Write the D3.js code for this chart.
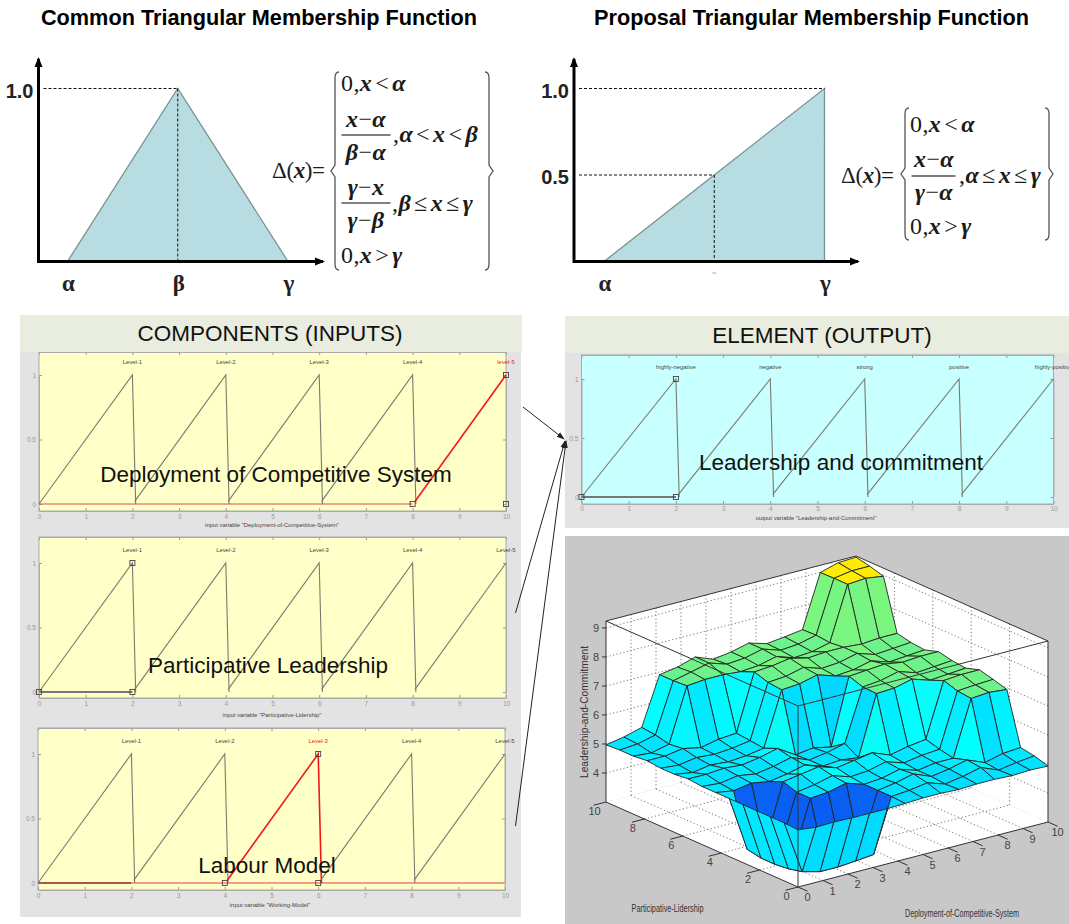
<!DOCTYPE html>
<html lang="en">
<head>
<meta charset="UTF-8">
<title>Triangular membership functions and fuzzy surface</title>
<script src="https://d3js.org/d3.v7.min.js"></script>
<style>
html,body{margin:0;padding:0;background:#fff}
svg{display:block}
text{font-family:"Liberation Sans",Arial,sans-serif}
.title{font-weight:bold;font-size:21.7px;fill:#000;text-anchor:middle}
.tri-area{fill:#b7dde2;stroke:#7b9292;stroke-width:1.3}
.guide{stroke:#111;stroke-width:1;stroke-dasharray:3 2;fill:none}
.axis-main{stroke:#000;stroke-width:3;fill:none}
.big-tick{font-weight:bold;font-size:20px;fill:#222}
.greek{font-family:"Liberation Serif",serif;font-weight:bold;font-size:23px;fill:#222;text-anchor:middle}
.math{font-family:"Liberation Serif",serif;font-size:24px;fill:#1b1b1b}
.math .v{font-style:italic;font-weight:bold}
.rule{stroke:#555;stroke-width:1.3}
.brk{stroke:#555;stroke-width:1.3;fill:none}
.head{fill:#e9eddf}
.head-label{font-size:22.5px;fill:#111;text-anchor:middle}
.panel{fill:#e3e3e3}
.mf-axis text{fill:#999;font-size:6.5px;font-family:"Liberation Sans",sans-serif}
.mf-axis line{stroke:#999}
.mf-axis path{stroke:#aaa;fill:none}
.mf-line{fill:none;stroke:#7a7a70;stroke-width:1.1}
.mf-name{font-size:5.9px;text-anchor:middle;fill:#444}
.mf-var{font-size:5.9px;text-anchor:middle;fill:#444}
.mf-title{font-size:22.5px;fill:#111;text-anchor:middle}
.handle{fill:none;stroke:#444;stroke-width:.9}
.link{stroke:#222;stroke-width:1;fill:none}
.surf-wall{fill:#fff}
.surf-grid{stroke:#777;stroke-width:1;stroke-dasharray:1.2 2.4;fill:none}
.surf-box{stroke:#333;stroke-width:1;fill:none}
.surf-face{stroke:#222;stroke-width:.9;stroke-linejoin:round}
.surf-tick{font-size:11px;fill:#444;text-anchor:middle}
.surf-name{font-size:10.2px;fill:#333;text-anchor:middle}
</style>
</head>
<body>
<svg id="chart" width="1069" height="924" viewBox="0 0 1069 924"></svg>
<script>
// top left / top right membership shapes (x, mu)
var commonX = [0, 0.5, 1];
var commonMu = [0, 1, 0];
var proposalX = [0, 0.5, 1];
var proposalMu = [0, 0.5, 1];

// sawtooth membership functions, same in every panel
var mfFeet = [0, 2.05, 4.05, 6.05, 8.05];
var mfFootMu = [0, 0.02, 0.02, 0.02, 0.02];
var mfPeaks = [2, 4, 6, 8, 10];
var mfEnds = [2.07, 4.07, 6.07, 8.07, null];
var inputLevels = ['Level-1', 'Level-2', 'Level-3', 'Level-4', 'Level-5'];
var outputLevels = ['highly-negative', 'negative', 'strong', 'positive', 'highly-positive'];
var xTicks = [0, 1, 2, 3, 4, 5, 6, 7, 8, 9, 10];
var yTicks = [0, 0.5, 1];

// gensurf output, rows are Participative-Lidership, columns Deployment-of-Competitive-System
var surfaceZ = [
  [4.97, 4.9, 4.92, 4.9, 4.9, 4.9, 4.92, 4.95, 4.95, 4.92, 4.95, 4.95, 4.92, 4.95, 4.93],
  [5.0, 3.16, 3.0, 3.0, 3.05, 3.11, 4.95, 5.0, 5.1, 4.9, 5.0, 5.15, 4.9, 5.0, 5.07],
  [5.0, 3.05, 3.0, 3.0, 3.05, 3.1, 4.95, 5.05, 5.2, 4.95, 5.05, 5.2, 4.95, 5.1, 5.15],
  [5.0, 3.0, 3.05, 4.95, 5.0, 5.15, 4.95, 5.0, 5.15, 4.95, 5.05, 5.05, 6.95, 7.0, 6.94],
  [5.0, 3.0, 3.05, 4.95, 5.05, 5.2, 5.0, 5.05, 5.2, 5.0, 5.1, 5.15, 7.0, 7.05, 7.08],
  [5.0, 3.09, 3.1, 5.1, 5.2, 5.3, 5.1, 5.2, 5.3, 5.06, 5.2, 5.28, 7.15, 7.2, 7.2],
  [5.0, 4.9, 5.0, 4.9, 5.0, 5.15, 4.95, 5.0, 4.92, 6.97, 7.0, 7.15, 6.95, 7.0, 7.05],
  [5.0, 4.95, 5.05, 4.95, 5.05, 5.2, 4.95, 5.05, 5.2, 6.99, 7.05, 7.2, 7.0, 7.05, 7.1],
  [5.05, 5.05, 5.1, 5.05, 5.15, 5.3, 4.92, 5.0, 4.87, 7.15, 7.2, 7.25, 7.15, 7.2, 7.2],
  [5.0, 4.9, 5.0, 4.95, 5.0, 5.1, 6.95, 7.0, 7.15, 6.95, 7.0, 7.15, 6.95, 7.0, 7.05],
  [5.0, 4.95, 5.05, 5.0, 5.05, 5.15, 7.0, 7.05, 7.2, 7.0, 7.05, 7.2, 7.0, 7.05, 7.1],
  [5.05, 5.05, 5.15, 5.02, 5.15, 5.2, 7.15, 7.2, 7.3, 7.15, 7.2, 7.2, 7.15, 7.2, 7.2],
  [5.0, 4.95, 5.09, 6.94, 7.0, 7.0, 6.95, 7.0, 7.15, 6.95, 7.0, 7.15, 9.0, 9.05, 8.96],
  [5.0, 5.05, 5.2, 6.91, 7.05, 7.2, 7.0, 7.05, 7.2, 7.0, 7.05, 7.2, 9.0, 9.1, 9.1],
  [4.97, 5.08, 5.25, 6.91, 7.01, 7.2, 6.96, 7.05, 7.2, 7.02, 7.09, 7.18, 8.99, 9.17, 9.2]
];
var uTicks = [0, 1, 2, 3, 4, 5, 6, 7, 8, 9, 10];
var vTicks = [0, 2, 4, 6, 8, 10];
var zTicks = [4, 5, 6, 7, 8, 9];

var svg = d3.select('#chart');
var defs = svg.append('defs');
defs.append('marker').attr('id', 'head').attr('markerUnits', 'userSpaceOnUse')
  .attr('viewBox', '0 0 10 10').attr('refX', 8).attr('refY', 5)
  .attr('markerWidth', 10).attr('markerHeight', 10).attr('orient', 'auto')
  .append('path').attr('d', 'M0,1L10,5L0,9Z').attr('fill', '#000');
defs.append('marker').attr('id', 'thin').attr('markerUnits', 'userSpaceOnUse')
  .attr('viewBox', '0 0 10 10').attr('refX', 9).attr('refY', 5)
  .attr('markerWidth', 8).attr('markerHeight', 8).attr('orient', 'auto')
  .append('path').attr('d', 'M0,1.5L10,5L0,8.5Z').attr('fill', '#222');

svg.append('text').attr('class', 'title').attr('x', 259).attr('y', 25).text('Common Triangular Membership Function');
svg.append('text').attr('class', 'title').attr('x', 811.5).attr('y', 25).text('Proposal Triangular Membership Function');

// ---- top shapes
function drawShape(xs, mus, xRange, originX, arrowX, labels, yLabels) {
  var x = d3.scaleLinear().domain([0, 1]).range(xRange);
  var y = d3.scaleLinear().domain([0, 1]).range([261.5, 88.5]);
  var g = svg.append('g');
  var pts = xs.map(function(d, i) { return [d, mus[i]]; });
  g.append('path').attr('class', 'tri-area')
    .attr('d', d3.area().x(function(d) { return x(d[0]); }).y0(y(0)).y1(function(d) { return y(d[1]); })(pts));
  // guide from the y axis to the shape and down to the x axis
  yLabels.forEach(function(t) {
    var gx = t.at;
    g.append('line').attr('class', 'guide').attr('x1', originX + 5).attr('x2', x(gx)).attr('y1', y(t.mu)).attr('y2', y(t.mu));
    g.append('text').attr('class', 'big-tick').attr('text-anchor', 'end').attr('x', originX - 5).attr('y', y(t.mu) + 9).text(t.label);
  });
  g.append('line').attr('class', 'guide').attr('x1', x(0.5)).attr('x2', x(0.5)).attr('y1', y(pts[1][1])).attr('y2', y(0));
  g.append('line').attr('class', 'axis-main').attr('marker-end', 'url(#head)')
    .attr('x1', originX).attr('x2', originX).attr('y1', y(0) + 1.5).attr('y2', 59);
  g.append('line').attr('class', 'axis-main').attr('marker-end', 'url(#head)')
    .attr('x1', originX).attr('x2', arrowX).attr('y1', y(0)).attr('y2', y(0));
  labels.forEach(function(l) {
    g.append('text').attr('class', 'greek').attr('x', x(l.at) + 1).attr('y', 291).text(l.text);
  });
  return x;
}
drawShape(commonX, commonMu, [67.5, 288], 38.5, 323,
  [{at: 0, text: 'α'}, {at: 0.5, text: 'β'}, {at: 1, text: 'γ'}],
  [{mu: 1, at: 0.5, label: '1.0'}]);
var propX = drawShape(proposalX, proposalMu, [604, 824.5], 574, 858,
  [{at: 0, text: 'α'}, {at: 1, text: 'γ'}],
  [{mu: 1, at: 1, label: '1.0'}, {mu: 0.5, at: 0.5, label: '0.5'}]);
// leftover tick under the middle guide
svg.append('line').attr('x1', propX(0.5) - 2).attr('x2', propX(0.5) + 2).attr('y1', 273).attr('y2', 273)
  .attr('stroke', '#aaa').attr('stroke-width', 1);

// ---- formulas
function mathText(x, y, str, anchor) {
  var t = svg.append('text').attr('class', 'math').attr('x', x).attr('y', y)
    .attr('text-anchor', anchor || 'start').attr('letter-spacing', '0.4');
  var afterOp = false;
  str.split('').forEach(function(c) {
    var op = /[<>≤≥]/.test(c);
    t.append('tspan').attr('class', /[xαβγ]/.test(c) ? 'v' : null)
      .attr('dx', op || afterOp ? 3 : null).text(c);
    afterOp = op;
  });
  return t;
}
function rule(x1, x2, y) {
  svg.append('line').attr('class', 'rule').attr('x1', x1).attr('x2', x2).attr('y1', y).attr('y2', y);
}
function bracket(x, y0, y1, dir) {
  var mid = (y0 + y1) / 2;
  svg.append('path').attr('class', 'brk').attr('d',
    'M' + (x + dir * 4) + ',' + y0 + 'Q' + x + ',' + y0 + ' ' + x + ',' + (y0 + 6) +
    'V' + (mid - 6) + 'L' + (x - dir * 4) + ',' + mid + 'L' + x + ',' + (mid + 6) +
    'V' + (y1 - 6) + 'Q' + x + ',' + y1 + ' ' + (x + dir * 4) + ',' + y1);
}
mathText(272, 178, 'Δ(x)=').style('font-size', '23px').attr('letter-spacing', '-0.4');
bracket(335, 72, 270, 1);
bracket(489, 72, 270, -1);
mathText(341, 91, '0,x<α');
mathText(366, 127, 'x−α', 'middle');
rule(341.5, 390.5, 135);
mathText(366, 160, 'β−α', 'middle');
mathText(393, 142, ',α<x<β');
mathText(366, 195, 'γ−x', 'middle');
rule(341.5, 390.5, 203);
mathText(366, 228, 'γ−β', 'middle');
mathText(392, 211, ',β≤x≤γ');
mathText(341, 263, '0,x>γ');

mathText(841, 183, 'Δ(x)=').style('font-size', '23px').attr('letter-spacing', '-0.4');
bracket(905, 108, 240, 1);
bracket(1049, 108, 240, -1);
mathText(910, 132, '0,x<α');
mathText(934, 167, 'x−α', 'middle');
rule(911.5, 955.5, 176);
mathText(934, 200, 'γ−α', 'middle');
mathText(959, 183, ',α≤x≤γ');
mathText(910, 234, '0,x>γ');

// ---- input / output panels
svg.append('rect').attr('class', 'panel').attr('x', 20).attr('y', 352).attr('width', 501).attr('height', 565);
svg.append('rect').attr('class', 'panel').attr('x', 565).attr('y', 353).attr('width', 504).attr('height', 175);

function drawMf(opt) {
  var x = d3.scaleLinear().domain([0, 10]).range([opt.left, opt.right]);
  var y = d3.scaleLinear().domain([0, 1]).range([opt.y0, opt.y1]);
  var g = svg.append('g');
  g.append('rect').attr('x', opt.left).attr('y', opt.top).attr('width', opt.right - opt.left)
    .attr('height', opt.bottom - opt.top).attr('fill', opt.fill);

  var bottom = d3.axisBottom(x).tickValues(xTicks).tickSizeInner(-3).tickSizeOuter(0).tickPadding(opt.pad).tickFormat(d3.format('d'));
  g.append('g').attr('class', 'mf-axis').attr('transform', 'translate(0,' + opt.bottom + ')').call(bottom);
  g.append('g').attr('class', 'mf-axis').attr('transform', 'translate(0,' + opt.top + ')')
    .call(d3.axisTop(x).tickValues(xTicks).tickSizeInner(-3).tickSizeOuter(0).tickFormat(''));
  var leftAxis = d3.axisLeft(y).tickValues(yTicks).tickSizeInner(-3).tickSizeOuter(0).tickPadding(3).tickFormat(function(d) { return d; });
  g.append('g').attr('class', 'mf-axis').attr('transform', 'translate(' + opt.left + ',0)').call(leftAxis);
  g.append('g').attr('class', 'mf-axis').attr('transform', 'translate(' + opt.right + ',0)')
    .call(d3.axisRight(y).tickValues(yTicks).tickSizeInner(-3).tickSizeOuter(0).tickFormat(''));
  // frame
  g.append('rect').attr('x', opt.left).attr('y', opt.top).attr('width', opt.right - opt.left)
    .attr('height', opt.bottom - opt.top).attr('fill', 'none').attr('stroke', '#aaa');

  var line = d3.line().x(function(d) { return x(d[0]); }).y(function(d) { return y(d[1]); });
  (opt.base || []).forEach(function(b) {
    g.append('path').attr('d', line([[b.from, 0], [b.to, 0]])).attr('fill', 'none')
      .attr('stroke', b.color).attr('stroke-width', b.width);
  });
  mfPeaks.forEach(function(p, i) {
    var on = i === opt.active;
    var pts = [[mfFeet[i], mfFootMu[i]], [p, 1]];
    if (mfEnds[i] !== null) pts.push([mfEnds[i], 0]);
    g.append('path').attr('class', 'mf-line').attr('d', line(pts))
      .style('stroke', on ? '#f21818' : null).style('stroke-width', on ? 1.6 : null);
    g.append('text').attr('class', 'mf-name').attr('x', x(p)).attr('y', opt.nameY)
      .style('fill', on ? '#f21818' : null).text(on && p === 10 ? 'level-5' : opt.names[i]);
  });
  (opt.handles || []).forEach(function(h) {
    g.append('rect').attr('class', 'handle').attr('x', x(h[0]) - 2.5).attr('y', y(h[1]) - 2.5).attr('width', 5).attr('height', 5);
  });
  g.append('text').attr('class', 'mf-var').attr('x', opt.varX).attr('y', opt.varY).text(opt.varName);
  g.append('text').attr('class', 'mf-title').attr('x', opt.nameX).attr('y', opt.nameBase).text(opt.title);
}

drawMf({left: 39, right: 506, top: 352, bottom: 511, y0: 504, y1: 375, nameY: 364, fill: '#ffffc8', pad: 3,
  names: inputLevels, active: 4, handles: [[8, 0], [10, 1], [10, 0]],
  base: [{from: 0, to: 8, color: '#d9534a', width: 1.2}],
  varX: 272, varY: 527, varName: 'input variable "Deployment-of-Competitive-System"',
  nameX: 276, nameBase: 482, title: 'Deployment of Competitive System'});
drawMf({left: 39, right: 506, top: 537, bottom: 698, y0: 692, y1: 563, nameY: 552, fill: '#ffffc8', pad: 3,
  names: inputLevels, active: -1, handles: [[0, 0], [2, 0], [2, 1]],
  base: [{from: 0, to: 2, color: '#777', width: 1.8}],
  varX: 272, varY: 717, varName: 'input variable "Participative-Lidership"',
  nameX: 268, nameBase: 673, title: 'Participative Leadership'});
drawMf({left: 38, right: 505, top: 728, bottom: 890, y0: 883, y1: 754, nameY: 743, fill: '#ffffc8', pad: 3,
  names: inputLevels, active: 2, handles: [[4, 0], [6, 1], [6, 0]],
  base: [{from: 0, to: 2, color: '#a8564c', width: 2}, {from: 2, to: 10, color: '#f79a8c', width: 2}],
  varX: 270, varY: 907, varName: 'input variable "Working-Model"',
  nameX: 267, nameBase: 873, title: 'Labour Model'});
drawMf({left: 581.5, right: 1053.5, top: 355, bottom: 504, y0: 497, y1: 379, nameY: 369, fill: '#c8ffff', pad: 2,
  names: outputLevels, active: -1, handles: [[0, 0], [2, 0], [2, 1]],
  base: [{from: 0, to: 2, color: '#777', width: 1.8}],
  varX: 816, varY: 520, varName: 'output variable "Leadership-and-Commitment"',
  nameX: 841, nameBase: 470, title: 'Leadership and commitment'});

svg.append('rect').attr('class', 'head').attr('x', 20).attr('y', 315).attr('width', 502).attr('height', 37);
svg.append('text').attr('class', 'head-label').attr('x', 270).attr('y', 341).text('COMPONENTS (INPUTS)');
svg.append('rect').attr('class', 'head').attr('x', 565).attr('y', 316).attr('width', 504).attr('height', 37);
svg.append('text').attr('class', 'head-label').attr('x', 822).attr('y', 343).text('ELEMENT (OUTPUT)');

// ---- arrows from the inputs to the output
[[523, 407, 564, 439], [515.5, 613, 565, 441], [515.5, 826, 566, 441]].forEach(function(a) {
  svg.append('line').attr('class', 'link').attr('marker-end', 'url(#thin)')
    .attr('x1', a[0]).attr('y1', a[1]).attr('x2', a[2]).attr('y2', a[3]);
});

// ---- surface
svg.append('rect').attr('x', 565).attr('y', 536).attr('width', 504).attr('height', 388).attr('fill', '#c8c8c8');

var uX = d3.scaleLinear().domain([0, 10]).range([0, 250]);
var uY = d3.scaleLinear().domain([0, 10]).range([0, -65]);
var vX = d3.scaleLinear().domain([0, 10]).range([0, -192]);
var vY = d3.scaleLinear().domain([0, 10]).range([0, -85]);
var zY = d3.scaleLinear().domain([3, 9.24]).range([0, -181]);
var gridStep = d3.scaleLinear().domain([0, 14]).range([0, 10]);
var zColor = d3.scaleLinear()
  .domain([3, 4, 4.85, 5.0, 5.2, 6, 6.9, 7.3, 8.5, 8.95])
  .range(['#0b5cf2', '#0094ff', '#00d6ff', '#00e8ff', '#00ffff', '#30f5c0', '#68f090', '#80f87a', '#e0f020', '#ffec00'])
  .clamp(true);

function proj(u, v, z) {
  return [798 + uX(u) + vX(v), 887 + uY(u) + vY(v) + zY(z)];
}
function pathOf(pts) { return 'M' + pts.map(function(p) { return p.join(','); }).join('L') + 'Z'; }
var surf = svg.append('g');
var zMin = 3, zTop = 9.24;

// walls and floor seen behind the surface
[[[0, 0, zMin], [10, 0, zMin], [10, 10, zMin], [0, 10, zMin]],
 [[0, 10, zMin], [10, 10, zMin], [10, 10, zTop], [0, 10, zTop]],
 [[10, 0, zMin], [10, 10, zMin], [10, 10, zTop], [10, 0, zTop]]].forEach(function(q) {
  surf.append('path').attr('class', 'surf-wall').attr('d', pathOf(q.map(function(p) { return proj(p[0], p[1], p[2]); })));
});
function seg(cls, a, b) {
  var p = proj(a[0], a[1], a[2]), q = proj(b[0], b[1], b[2]);
  surf.append('line').attr('class', cls).attr('x1', p[0]).attr('y1', p[1]).attr('x2', q[0]).attr('y2', q[1]);
}
uTicks.slice(1, -1).forEach(function(u) {
  seg('surf-grid', [u, 0, zMin], [u, 10, zMin]);
  seg('surf-grid', [u, 10, zMin], [u, 10, zTop]);
});
vTicks.slice(1, -1).forEach(function(v) {
  seg('surf-grid', [0, v, zMin], [10, v, zMin]);
  seg('surf-grid', [10, v, zMin], [10, v, zTop]);
});
zTicks.forEach(function(z) {
  seg('surf-grid', [0, 10, z], [10, 10, z]);
  seg('surf-grid', [10, 10, z], [10, 0, z]);
});
// back edges of the box
seg('surf-box', [0, 10, zTop], [10, 10, zTop]);
seg('surf-box', [10, 10, zTop], [10, 0, zTop]);
seg('surf-box', [0, 10, zMin], [0, 10, zTop]);
seg('surf-box', [10, 0, zMin], [10, 0, zTop]);

// far cells first so nearer ones paint over them, colour comes from the first corner
for (var j = surfaceZ.length - 2; j >= 0; j--) {
  for (var i = surfaceZ[j].length - 2; i >= 0; i--) {
    var corners = [[i, j], [i + 1, j], [i + 1, j + 1], [i, j + 1]].map(function(c) {
      return proj(gridStep(c[0]), gridStep(c[1]), surfaceZ[c[1]][c[0]]);
    });
    surf.append('path').attr('class', 'surf-face').attr('fill', zColor(surfaceZ[j][i])).attr('d', pathOf(corners));
  }
}

// front edges of the box
seg('surf-box', [0, 10, zTop], [0, 0, zTop]);
seg('surf-box', [10, 0, zTop], [0, 0, zTop]);
seg('surf-box', [0, 0, zMin], [0, 0, zTop]);
seg('surf-box', [0, 0, zMin], [10, 0, zMin]);
seg('surf-box', [0, 0, zMin], [0, 10, zMin]);

// tick marks and labels
uTicks.forEach(function(u) {
  seg('surf-box', [u, 0, zMin], [u, -0.5, zMin]);
  var p = proj(u, 0, zMin);
  surf.append('text').attr('class', 'surf-tick').attr('x', p[0] + 9.5).attr('y', p[1] + 14).text(u);
});
vTicks.forEach(function(v) {
  seg('surf-box', [0, v, zMin], [-0.5, v, zMin]);
  var p = proj(0, v, zMin);
  surf.append('text').attr('class', 'surf-tick').attr('x', p[0] - 11.5).attr('y', p[1] + 13).text(v);
});
zTicks.forEach(function(z) {
  var p = proj(0, 10, z);
  surf.append('line').attr('class', 'surf-box').attr('x1', p[0] - 4).attr('x2', p[0]).attr('y1', p[1]).attr('y2', p[1]);
  surf.append('text').attr('class', 'surf-tick').attr('x', p[0] - 10).attr('y', p[1] + 4).text(z);
});
surf.append('text').attr('class', 'surf-name').attr('transform', 'translate(588,712) rotate(-90)').text('Leadership-and-Commitment');
surf.append('text').attr('class', 'surf-name').attr('x', 667.5).attr('y', 912)
  .attr('textLength', 72).attr('lengthAdjust', 'spacingAndGlyphs').text('Participative-Lidership');
surf.append('text').attr('class', 'surf-name').attr('x', 962).attr('y', 917)
  .attr('textLength', 114).attr('lengthAdjust', 'spacingAndGlyphs').text('Deployment-of-Competitive-System');
</script>
</body>
</html>
